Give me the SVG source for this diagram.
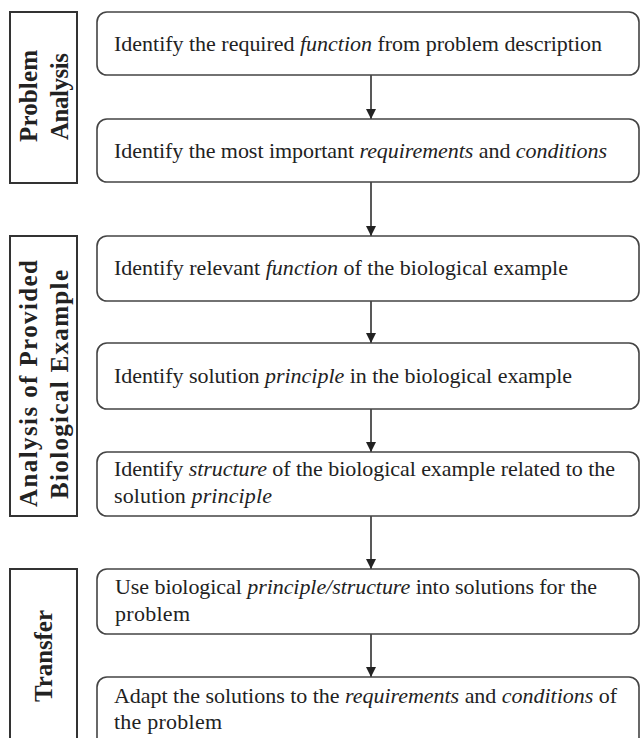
<svg xmlns="http://www.w3.org/2000/svg" width="641" height="738" viewBox="0 0 641 738">
<style>
.lab{fill:#fff;stroke:#333;stroke-width:2}
.box{fill:#fff;stroke:#444;stroke-width:1.6}
.t{font-family:"Liberation Serif","Times New Roman",serif;font-size:22px;fill:#222}
.h{font-family:"Liberation Serif","Times New Roman",serif;font-size:25px;font-weight:bold;fill:#222;text-anchor:middle}
.i{font-style:italic}
.c{stroke:#222;stroke-width:1.5;fill:none}
</style>
<defs>
<marker id="ah" markerUnits="userSpaceOnUse" viewBox="0 0 10 10" markerWidth="10" markerHeight="10" refX="10" refY="5" orient="auto">
<path d="M0,0 L10,5 L0,10 z" fill="#222"/>
</marker>
</defs>
<rect width="641" height="738" fill="#fff"/>
<g id="label-problem-analysis">
<rect class="lab" x="10" y="12" width="67" height="171"/>
<text class="h" transform="translate(37,96) rotate(-90)" textLength="92">Problem</text>
<text class="h" transform="translate(68,96.5) rotate(-90)" textLength="87">Analysis</text>
</g>
<g id="label-analysis-biological">
<rect class="lab" x="10" y="236" width="67" height="280"/>
<text class="h" transform="translate(37,383.5) rotate(-90)" textLength="247">Analysis of Provided</text>
<text class="h" transform="translate(68,384.5) rotate(-90)" textLength="229">Biological Example</text>
</g>
<g id="label-transfer">
<rect class="lab" x="10" y="569" width="67" height="185"/>
<text class="h" transform="translate(52,656) rotate(-90)" textLength="92">Transfer</text>
</g>
<g id="connectors">
<line class="c" x1="371" y1="75" x2="371" y2="119" marker-end="url(#ah)"/>
<line class="c" x1="371" y1="182" x2="371" y2="236" marker-end="url(#ah)"/>
<line class="c" x1="371" y1="301" x2="371" y2="343" marker-end="url(#ah)"/>
<line class="c" x1="371" y1="409" x2="371" y2="452" marker-end="url(#ah)"/>
<line class="c" x1="371" y1="516" x2="371" y2="569" marker-end="url(#ah)"/>
<line class="c" x1="371" y1="634" x2="371" y2="677" marker-end="url(#ah)"/>
</g>
<g id="step1">
<rect class="box" x="97" y="12" width="542" height="63" rx="10"/>
<text class="t" x="114" y="51" textLength="488">Identify the required <tspan class="i">function</tspan> from problem description</text>
</g>
<g id="step2">
<rect class="box" x="97" y="119" width="542" height="63" rx="10"/>
<text class="t" x="114" y="158" textLength="493">Identify the most important <tspan class="i">requirements</tspan> and <tspan class="i">conditions</tspan></text>
</g>
<g id="step3">
<rect class="box" x="97" y="236" width="542" height="65" rx="10"/>
<text class="t" x="114" y="275" textLength="454">Identify relevant <tspan class="i">function</tspan> of the biological example</text>
</g>
<g id="step4">
<rect class="box" x="97" y="343" width="542" height="66" rx="10"/>
<text class="t" x="114" y="383" textLength="458">Identify solution <tspan class="i">principle</tspan> in the biological example</text>
</g>
<g id="step5">
<rect class="box" x="97" y="452" width="542" height="64" rx="10"/>
<text class="t" x="114" y="476" textLength="501">Identify <tspan class="i">structure</tspan> of the biological example related to the</text>
<text class="t" x="114" y="503" textLength="158">solution <tspan class="i">principle</tspan></text>
</g>
<g id="step6">
<rect class="box" x="97" y="569" width="542" height="65" rx="10"/>
<text class="t" x="115" y="594" textLength="482">Use biological <tspan class="i">principle/structure</tspan> into solutions for the</text>
<text class="t" x="115" y="621" textLength="75">problem</text>
</g>
<g id="step7">
<rect class="box" x="97" y="677" width="542" height="75" rx="10"/>
<text class="t" x="114" y="703" textLength="503">Adapt the solutions to the <tspan class="i">requirements</tspan> and <tspan class="i">conditions</tspan> of</text>
<text class="t" x="114" y="729" textLength="108">the problem</text>
</g>
</svg>
